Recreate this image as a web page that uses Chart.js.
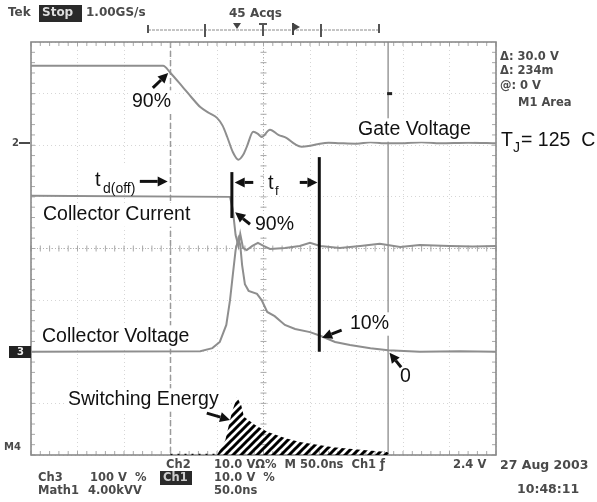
<!DOCTYPE html>
<html>
<head>
<meta charset="utf-8">
<script src="https://cdn.jsdelivr.net/npm/chart.js@4.4.0/dist/chart.umd.min.js"></script>
<style>
  html, body { margin: 0; padding: 0; background: #fff; overflow: hidden; }
  canvas { display: block; }
</style>
</head>
<body>
<canvas id="scope" width="597" height="502"></canvas>
<script>
// time axis in ns (50 ns/div, 10 div), vertical in divisions from the bottom (8 div)
const gateT = [0, 142, 150, 163, 172, 182, 192, 200, 206, 211, 217, 223, 228, 232, 239, 244, 248, 257, 266, 275, 284, 291, 300, 308, 320, 332, 350, 365, 380, 397, 420, 440, 470, 500];
const gateV = [7.54, 7.54, 7.40, 7.13, 6.94, 6.74, 6.62, 6.53, 6.38, 6.16, 5.87, 5.72, 5.81, 5.97, 6.26, 6.22, 6.16, 6.30, 6.20, 6.14, 6.02, 5.97, 5.99, 6.02, 6.05, 6.04, 6.03, 6.06, 6.04, 6.04, 6.06, 6.04, 6.05, 6.04];

const icT = [0, 214, 217, 220, 223, 225, 228, 232, 238, 244, 250, 257, 273, 289, 300, 311, 332, 354, 375, 397, 418, 450, 475, 500];
const icV = [5.02, 5.0, 4.75, 4.26, 4.05, 4.28, 4.01, 3.97, 4.05, 4.11, 4.05, 3.99, 4.01, 4.05, 4.11, 4.05, 4.01, 4.05, 4.09, 4.03, 4.07, 4.05, 4.04, 4.05];

const vceT = [0, 182, 195, 203, 210, 214, 217, 220, 223, 225, 227, 230, 234, 243, 248, 254, 262, 273, 284, 300, 311, 327, 343, 365, 384, 418, 461, 500];
const vceV = [2.0, 2.01, 2.07, 2.19, 2.52, 3.0, 3.49, 3.97, 4.20, 4.07, 3.68, 3.31, 3.18, 3.12, 3.0, 2.77, 2.69, 2.52, 2.44, 2.38, 2.31, 2.19, 2.13, 2.07, 2.03, 2.0, 2.01, 2.0];

const energyT = [200, 209, 216, 221.5, 226, 229, 241, 254, 273, 289, 325, 354, 383, 386];
const energyV = [0, 0.29, 0.83, 1.12, 0.97, 0.74, 0.58, 0.45, 0.33, 0.25, 0.15, 0.10, 0.06, 0];

const baseDotsT = [150, 200];
const baseDotsV = [0, 0];

// cursors and t_f markers (ns)
const cursorDashed = 150;
const cursorSolid = 384;
const tfStart = 216;
const tfEnd = 310;

const traceGrey = '#8e8e8e';
const pts = (ts, vs) => ts.map((t, i) => ({ x: t, y: vs[i] }));

const hatch = (() => {
  const c = document.createElement('canvas');
  c.width = 8; c.height = 8;
  const g = c.getContext('2d');
  g.strokeStyle = '#000';
  g.lineWidth = 3;
  g.beginPath();
  g.moveTo(-2, 10); g.lineTo(10, -2);
  g.moveTo(-6, 6); g.lineTo(6, -6);
  g.moveTo(2, 14); g.lineTo(14, 2);
  g.stroke();
  return g.createPattern(c, 'repeat');
})();

const graticule = {
  id: 'graticule',
  beforeDatasetsDraw(chart) {
    const { ctx, chartArea: a, scales: { x, y } } = chart;
    ctx.save();
    // cursors
    ctx.strokeStyle = '#9a9a9a';
    ctx.lineWidth = 1.5;
    ctx.setLineDash([6, 3]);
    ctx.beginPath();
    ctx.moveTo(x.getPixelForValue(cursorDashed), a.top);
    ctx.lineTo(x.getPixelForValue(cursorDashed), a.bottom);
    ctx.stroke();
    ctx.setLineDash([]);
    ctx.beginPath();
    ctx.moveTo(x.getPixelForValue(cursorSolid), a.top);
    ctx.lineTo(x.getPixelForValue(cursorSolid), a.bottom);
    ctx.stroke();

    // centre cross
    const cx = x.getPixelForValue(250), cy = y.getPixelForValue(4);
    ctx.strokeStyle = '#b4b4b4';
    ctx.lineWidth = 1;
    ctx.setLineDash([1, 2]);
    ctx.beginPath();
    ctx.moveTo(a.left, cy); ctx.lineTo(a.right, cy);
    ctx.moveTo(cx, a.top); ctx.lineTo(cx, a.bottom);
    ctx.stroke();
    ctx.setLineDash([]);

    // minor ticks, 5 per division
    ctx.strokeStyle = '#a8a8a8';
    ctx.beginPath();
    for (let t = 0; t <= 500; t += 10) {
      const px = x.getPixelForValue(t);
      ctx.moveTo(px, a.top); ctx.lineTo(px, a.top + 4);
      ctx.moveTo(px, a.bottom); ctx.lineTo(px, a.bottom - 4);
      ctx.moveTo(px, cy - 3); ctx.lineTo(px, cy + 3);
    }
    for (let d = 0; d <= 8; d += 0.2) {
      const py = y.getPixelForValue(d);
      ctx.moveTo(a.left, py); ctx.lineTo(a.left + 4, py);
      ctx.moveTo(a.right, py); ctx.lineTo(a.right - 4, py);
      ctx.moveTo(cx - 3, py); ctx.lineTo(cx + 3, py);
    }
    ctx.stroke();

    // frame
    ctx.strokeStyle = '#8a8a8a';
    ctx.lineWidth = 1.6;
    ctx.strokeRect(a.left, a.top, a.right - a.left, a.bottom - a.top);

    // small level mark on the solid cursor
    ctx.fillStyle = '#222';
    ctx.fillRect(x.getPixelForValue(cursorSolid) - 1, y.getPixelForValue(7.0) - 1.5, 5, 3);
    ctx.restore();
  }
};

const labelFont = (size) => `${size}px "Liberation Sans", Arial, sans-serif`;
const scopeFont = (size, w = 'bold') => `${w} ${size}px "DejaVu Sans", sans-serif`;

const annotations = {
  id: 'annotations',
  afterDatasetsDraw(chart) {
    const { ctx, scales: { x, y } } = chart;
    const P = (t, d) => [x.getPixelForValue(t), y.getPixelForValue(d)];

    const label = (text, left, mid, size = 19.5) => {
      ctx.font = labelFont(size);
      const w = ctx.measureText(text).width;
      ctx.fillStyle = '#fff';
      ctx.fillRect(left - 3, mid - size * 0.6, w + 6, size * 1.2);
      ctx.fillStyle = '#111';
      ctx.textBaseline = 'middle';
      ctx.fillText(text, left, mid);
    };
    const arrow = (t1, d1, t2, d2) => {
      const [x1, y1] = P(t1, d1), [x2, y2] = P(t2, d2);
      const ang = Math.atan2(y2 - y1, x2 - x1);
      const hl = 10, hw = 5;
      const bx = x2 - hl * Math.cos(ang), by = y2 - hl * Math.sin(ang);
      ctx.strokeStyle = '#111';
      ctx.fillStyle = '#111';
      ctx.lineWidth = 3;
      ctx.beginPath();
      ctx.moveTo(x1, y1); ctx.lineTo(bx, by);
      ctx.stroke();
      ctx.beginPath();
      ctx.moveTo(x2, y2);
      ctx.lineTo(bx + hw * Math.sin(ang), by - hw * Math.cos(ang));
      ctx.lineTo(bx - hw * Math.sin(ang), by + hw * Math.cos(ang));
      ctx.closePath();
      ctx.fill();
    };
    const bar = (t, d1, d2) => {
      const [px, y1] = P(t, d1), [, y2] = P(t, d2);
      ctx.strokeStyle = '#111';
      ctx.lineWidth = 3;
      ctx.beginPath();
      ctx.moveTo(px, y1); ctx.lineTo(px, y2);
      ctx.stroke();
    };

    ctx.save();
    // labels
    label('90%', 132, 102);
    label('Gate Voltage', 358, 130);
    label('Collector Current', 43, 215);
    label('Collector Voltage', 42, 337);
    label('90%', 255, 225);
    label('10%', 350, 324);
    label('0', 400, 377);
    label('Switching Energy', 68, 400);

    // t_d(off)
    ctx.fillStyle = '#fff';
    ctx.fillRect(91, 166, 48, 28);
    ctx.fillStyle = '#111';
    ctx.textBaseline = 'alphabetic';
    ctx.font = labelFont(20);
    ctx.fillText('t', 95, 186);
    ctx.font = labelFont(14);
    ctx.fillText('d(off)', 103, 193);

    // t_f
    ctx.fillStyle = '#fff';
    ctx.fillRect(264, 168, 24, 28);
    ctx.fillStyle = '#111';
    ctx.font = labelFont(20);
    ctx.fillText('t', 268, 189);
    ctx.font = labelFont(13);
    ctx.fillText('f', 275, 195);

    // T_J = 125 C
    ctx.fillStyle = '#fff';
    ctx.fillRect(499, 124, 98, 30);
    ctx.fillStyle = '#111';
    ctx.font = labelFont(19.5);
    ctx.fillText('T', 501, 146);
    ctx.font = labelFont(14);
    ctx.fillText('J', 513, 152);
    ctx.font = labelFont(19.5);
    ctx.fillText('= 125  C', 521, 146);

    // arrows and markers
    arrow(131, 7.11, 147.5, 7.40);
    arrow(117, 5.30, 147, 5.30);
    bar(tfStart, 5.48, 4.59);
    arrow(239, 5.28, 219, 5.28);
    arrow(289, 5.28, 308, 5.28);
    bar(tfEnd, 5.77, 2.0);
    arrow(235.5, 4.47, 219.5, 4.70);
    arrow(334, 2.42, 313, 2.27);
    arrow(398, 1.70, 385.5, 1.98);
    arrow(189, 0.81, 214, 0.68);

    // scope readouts
    ctx.filter = 'blur(0.35px)';
    ctx.textBaseline = 'middle';
    ctx.fillStyle = '#4a4a4a';
    ctx.font = scopeFont(12);
    ctx.fillText('Tek', 8, 13);
    ctx.fillStyle = '#2a2a2a';
    ctx.fillRect(39, 5, 43, 17);
    ctx.fillStyle = '#ddd';
    ctx.fillText('Stop', 42, 13);
    ctx.fillStyle = '#4a4a4a';
    ctx.fillText('1.00GS/s', 86, 13);
    ctx.fillText('45 Acqs', 229, 14);

    // trigger position bar
    ctx.strokeStyle = '#8a8a8a';
    ctx.lineWidth = 1;
    ctx.setLineDash([3, 1]);
    ctx.beginPath();
    ctx.moveTo(148, 30); ctx.lineTo(379, 30);
    ctx.stroke();
    ctx.setLineDash([]);
    ctx.strokeStyle = '#555';
    ctx.lineWidth = 2;
    ctx.beginPath();
    ctx.moveTo(148, 25); ctx.lineTo(148, 33);
    ctx.moveTo(205, 24); ctx.lineTo(205, 37);
    ctx.moveTo(321, 24); ctx.lineTo(321, 37);
    ctx.moveTo(379, 24); ctx.lineTo(379, 33);
    ctx.moveTo(263, 24); ctx.lineTo(263, 36);
    ctx.moveTo(259, 24); ctx.lineTo(267, 24);
    ctx.stroke();
    ctx.fillStyle = '#444';
    ctx.beginPath();
    ctx.moveTo(233, 23); ctx.lineTo(241, 23); ctx.lineTo(237, 29); ctx.closePath();
    ctx.fill();
    ctx.beginPath();
    ctx.moveTo(293, 23); ctx.lineTo(300, 27); ctx.lineTo(293, 31); ctx.closePath();
    ctx.fill();
    ctx.fillRect(292, 23, 2, 12);

    ctx.fillStyle = '#4a4a4a';
    ctx.font = scopeFont(11.5);
    ctx.fillText('\u0394: 30.0 V', 500, 57);
    ctx.fillText('\u0394: 234m', 500, 71);
    ctx.fillText('@: 0 V', 500, 86);
    ctx.fillText('M1 Area', 518, 103);

    // channel markers at the left edge
    ctx.font = scopeFont(10);
    ctx.fillText('2', 12, 143);
    ctx.fillRect(19, 142, 11, 2);
    ctx.fillStyle = '#222';
    ctx.fillRect(9, 346, 22, 12);
    ctx.fillStyle = '#eee';
    ctx.fillText('3', 17, 352);
    ctx.fillStyle = '#4a4a4a';
    ctx.fillText('M4', 4, 447);

    // bottom readouts
    ctx.font = scopeFont(11.5);
    ctx.fillText('Ch2', 166, 465);
    ctx.fillText('10.0 V\u03A9%  M 50.0ns  Ch1 \u0192', 214, 465);
    ctx.fillText('2.4 V', 453, 465);
    ctx.fillText('Ch3', 38, 478);
    ctx.fillText('100 V  %', 90, 478);
    ctx.fillStyle = '#2a2a2a';
    ctx.fillRect(160, 471, 32, 14);
    ctx.fillStyle = '#ccc';
    ctx.fillText('Ch1', 163, 478);
    ctx.fillStyle = '#4a4a4a';
    ctx.fillText('10.0 V  %', 214, 478);
    ctx.fillText('Math1', 38, 491);
    ctx.fillText('4.00kVV', 88, 491);
    ctx.fillText('50.0ns', 214, 491);
    ctx.font = scopeFont(12.5);
    ctx.fillText('27 Aug 2003', 500, 466);
    ctx.fillText('10:48:11', 517, 490);
    ctx.restore();
  }
};

new Chart(document.getElementById('scope'), {
  type: 'line',
  data: {
    datasets: [
      { label: 'Switching Energy', data: pts(energyT, energyV), borderWidth: 0, borderColor: 'rgba(0,0,0,0)', backgroundColor: hatch, fill: 'origin' },
      { label: 'Energy baseline', data: pts(baseDotsT, baseDotsV), borderColor: '#111', borderWidth: 2.5, borderDash: [2, 5], fill: false },
      { label: 'Gate Voltage', data: pts(gateT, gateV), borderColor: traceGrey, borderWidth: 2, cubicInterpolationMode: 'monotone', fill: false },
      { label: 'Collector Current', data: pts(icT, icV), borderColor: traceGrey, borderWidth: 2, fill: false },
      { label: 'Collector Voltage', data: pts(vceT, vceV), borderColor: traceGrey, borderWidth: 2, fill: false }
    ]
  },
  options: {
    responsive: false,
    animation: false,
    parsing: true,
    elements: { point: { radius: 0 }, line: { tension: 0 } },
    layout: { padding: { left: 31, right: 101, top: 42, bottom: 47 } },
    plugins: { legend: { display: false }, tooltip: { enabled: false } },
    scales: {
      x: {
        type: 'linear', min: 0, max: 500,
        ticks: { display: false, stepSize: 50 },
        grid: { color: 'rgba(0,0,0,0.16)', drawTicks: false },
        border: { display: false, dash: [1, 3] }
      },
      y: {
        type: 'linear', min: 0, max: 8,
        ticks: { display: false, stepSize: 1 },
        grid: { color: 'rgba(0,0,0,0.16)', drawTicks: false },
        border: { display: false, dash: [1, 3] }
      }
    }
  },
  plugins: [graticule, annotations]
});
</script>
</body>
</html>
